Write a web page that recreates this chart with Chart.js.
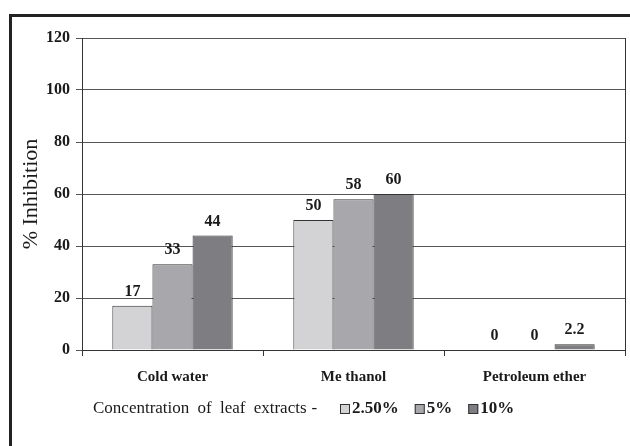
<!DOCTYPE html>
<html>
<head>
<meta charset="utf-8">
<script src="https://cdn.jsdelivr.net/npm/chart.js@4/dist/chart.umd.min.js"></script>
<style>
  html, body { margin: 0; padding: 0; background: #fff; }
  #wrap { width: 630px; height: 446px; position: relative; }
</style>
</head>
<body>
<div id="wrap"><canvas id="c" width="630" height="446"></canvas></div>
<script>
// Solvent extracts and inhibition per concentration
const categories = ['Cold water', 'Me thanol', 'Petroleum ether'];
const seriesNames = ['2.50%', '5%', '10%'];
const conc250 = [17, 50, 0];
const conc5 = [33, 58, 0];
const conc10 = [44, 60, 2.2];
const yTicks = [0, 20, 40, 60, 80, 100, 120];
const legendPrefix = 'Concentration of leaf extracts';
const yTitle = '% Inhibition';

const fills = ['#d3d3d5', '#a8a8ac', '#7e7e82'];
const SERIF = '"Liberation Serif", "Times New Roman", serif';

const framePlugin = {
  id: 'frame',
  beforeDraw(chart) {
    const ctx = chart.ctx;
    ctx.save();
    ctx.fillStyle = '#fff';
    ctx.fillRect(0, 0, chart.width, chart.height);
    ctx.restore();
  },
  afterDraw(chart) {
    const ctx = chart.ctx;
    const a = chart.chartArea;
    ctx.save();
    // outer frame (left and top)
    ctx.strokeStyle = '#222';
    ctx.lineWidth = 3;
    ctx.beginPath();
    ctx.moveTo(10.5, chart.height);
    ctx.lineTo(10.5, 15.5);
    ctx.lineTo(chart.width, 15.5);
    ctx.stroke();
    // plot right edge
    ctx.strokeStyle = '#333';
    ctx.lineWidth = 1;
    ctx.beginPath();
    ctx.moveTo(Math.round(a.right) + 0.5, a.top);
    ctx.lineTo(Math.round(a.right) + 0.5, a.bottom + 5);
    ctx.stroke();

    // value labels above bars
    ctx.fillStyle = '#1a1a1a';
    ctx.font = 'bold 16px ' + SERIF;
    ctx.textAlign = 'center';
    ctx.textBaseline = 'alphabetic';
    chart.data.datasets.forEach((ds, i) => {
      const meta = chart.getDatasetMeta(i);
      meta.data.forEach((bar, j) => {
        ctx.fillText(String(ds.data[j]), bar.x, bar.y - 10);
      });
    });

    // legend row
    const ly = 409;
    ctx.textBaseline = 'middle';
    ctx.textAlign = 'left';
    ctx.font = '17px ' + SERIF;
    ctx.fillStyle = '#1a1a1a';
    ctx.wordSpacing = '4px';
    ctx.fillText(legendPrefix, 93, ly);
    const pw = ctx.measureText(legendPrefix).width;
    ctx.wordSpacing = '0px';
    ctx.fillText('-', 93 + pw + 5, ly);
    let x = 340;
    ctx.font = 'bold 17px ' + SERIF;
    chart.data.datasets.forEach((ds, i) => {
      ctx.fillStyle = ds.backgroundColor;
      ctx.fillRect(x, ly - 5, 10, 10);
      ctx.strokeStyle = '#333';
      ctx.lineWidth = 1;
      ctx.strokeRect(x + 0.5, ly - 5 + 0.5, 9, 9);
      ctx.fillStyle = '#1a1a1a';
      ctx.fillText(ds.label, x + 12, ly);
      x += 12 + ctx.measureText(ds.label).width + 16;
    });
    ctx.restore();
  }
};

new Chart(document.getElementById('c'), {
  type: 'bar',
  data: {
    labels: categories,
    datasets: [
      { label: seriesNames[0], data: conc250, backgroundColor: fills[0] },
      { label: seriesNames[1], data: conc5, backgroundColor: fills[1] },
      { label: seriesNames[2], data: conc10, backgroundColor: fills[2] }
    ].map(d => Object.assign(d, {
      borderColor: '#333',
      borderWidth: 1,
      borderSkipped: 'bottom',
      categoryPercentage: 0.665,
      barPercentage: 1
    }))
  },
  options: {
    responsive: false,
    animation: false,
    devicePixelRatio: 1,
    layout: { padding: { top: 38, right: 5, bottom: 60, left: 0 } },
    plugins: {
      legend: { display: false },
      tooltip: { enabled: false }
    },
    scales: {
      x: {
        grid: { drawOnChartArea: false, color: '#333', tickLength: 6, offset: true },
        border: { color: '#333', width: 1 },
        ticks: {
          color: '#1a1a1a',
          font: { family: SERIF, size: 15, weight: 'bold' },
          padding: 12
        },
        afterFit(s) { s.height = 36; }
      },
      y: {
        min: 0,
        max: 120,
        afterBuildTicks(s) { s.ticks = yTicks.map(v => ({ value: v })); },
        grid: { color: '#555', tickLength: 6, lineWidth: 1 },
        border: { color: '#333', width: 1 },
        ticks: {
          color: '#1a1a1a',
          font: { family: SERIF, size: 16, weight: 'bold' },
          padding: 6
        },
        title: {
          display: true,
          text: yTitle,
          color: '#1a1a1a',
          font: { family: SERIF, size: 22 },
          padding: { top: 18, bottom: 0 }
        },
        afterFit(s) { s.width = 82; }
      }
    }
  },
  plugins: [framePlugin]
});
</script>
</body>
</html>
